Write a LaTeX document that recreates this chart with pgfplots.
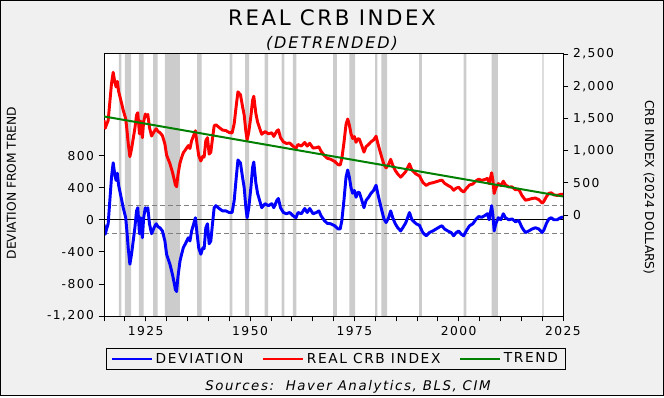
\documentclass[border=0pt]{standalone}
\usepackage{pgfplots}
\usepackage{pgfplotstable}
\pgfplotsset{compat=1.18}
\usepackage{fontspec}
\setmainfont{DejaVu Sans}[LetterSpace=12]
\newfontfamily\plainfont{DejaVu Sans}
\definecolor{bg}{HTML}{F0F0F0}
\definecolor{recgray}{HTML}{CCCCCC}
\definecolor{cblue}{HTML}{0000FF}
\definecolor{cred}{HTML}{FF0000}
\definecolor{cgreen}{HTML}{008000}

\pgfplotstableread{
year dev crb
1915.0 -60 1470
1915.3 -180 1347
1915.6 -120 1403
1916.0 -50 1469
1916.4 240 1754
1916.8 530 2040
1917.2 710 2215
1917.6 560 2061
1917.9 490 1987
1918.2 580 2074
1918.5 430 1920
1918.9 330 1816
1919.3 230 1711
1919.6 150 1628
1920.2 25 1496
1920.5 -150 1318
1920.8 -350 1114
1921.2 -555 905
1921.6 -430 1025
1922.0 -265 1186
1922.4 -100 1346
1922.8 110 1552
1923.1 150 1588
1923.5 -175 1259
1923.8 25 1456
1924.2 -225 1201
1924.5 25 1448
1924.9 150 1568
1925.2 110 1525
1925.5 150 1561
1925.9 -50 1357
1926.4 -175 1226
1927.0 -100 1294
1927.5 -50 1339
1928.0 -90 1293
1928.4 -100 1279
1929.0 -140 1232
1929.6 -265 1100
1930.0 -430 931
1930.8 -555 797
1931.4 -680 665
1931.9 -810 529
1932.1 -870 467
1932.4 -895 438
1932.7 -720 610
1933.0 -600 727
1933.2 -520 804
1933.6 -430 890
1934.0 -350 965
1934.5 -300 1010
1935.2 -225 1077
1935.6 -265 1032
1936.0 -140 1153
1936.5 -50 1237
1936.9 25 1308
1937.3 -175 1103
1937.7 -350 924
1938.2 -430 838
1938.7 -350 912
1939.0 -360 899
1939.4 -100 1154
1939.8 -50 1200
1940.2 -300 945
1940.6 -265 976
1941.0 -50 1186
1941.4 150 1382
1941.8 175 1402
1942.6 140 1358
1943.4 110 1319
1944.2 110 1310
1945.0 90 1281
1945.7 90 1273
1946.2 240 1417
1946.7 530 1702
1947.1 745 1912
1947.7 707 1867
1948.2 530 1685
1948.6 400 1550
1949.0 150 1296
1949.3 25 1167
1949.7 150 1288
1950.2 400 1532
1950.6 650 1778
1950.9 720 1844
1951.4 455 1574
1951.8 330 1444
1952.3 240 1348
1952.8 150 1253
1953.6 200 1294
1954.4 175 1260
1955.2 200 1276
1955.7 150 1220
1956.4 240 1302
1956.8 265 1323
1957.3 150 1202
1958.0 90 1134
1958.7 75 1111
1959.5 90 1117
1960.3 50 1068
1961.0 25 1035
1961.5 90 1095
1962.3 75 1070
1963.1 140 1126
1963.7 90 1070
1964.3 140 1113
1965.1 75 1039
1965.9 90 1045
1966.5 110 1058
1967.0 50 992
1967.8 -10 923
1968.5 -45 880
1969.3 -50 866
1970.3 -75 830
1971.1 -115 781
1971.6 -115 775
1972.0 -10 876
1972.5 240 1120
1973.0 530 1405
1973.4 620 1490
1973.8 530 1396
1974.2 400 1261
1974.6 330 1187
1975.0 365 1217
1975.4 280 1128
1975.8 340 1183
1976.2 340 1178
1976.8 240 1072
1977.3 150 976
1977.8 240 1060
1978.4 280 1094
1979.0 330 1137
1979.6 365 1165
1980.2 430 1223
1980.6 330 1119
1981.0 240 1024
1981.6 110 887
1982.1 10 782
1982.6 -35 731
1983.2 25 784
1983.7 110 864
1984.2 25 773
1984.8 -50 691
1985.4 -100 635
1986.1 -140 587
1986.6 -100 621
1987.3 -40 673
1988.2 90 793
1988.8 0 696
1989.8 -50 635
1990.6 -70 606
1991.4 -160 507
1992.2 -200 458
1993.0 -160 489
1993.8 -140 500
1994.6 -115 516
1995.4 -90 532
1996.0 -75 540
1996.6 -115 493
1997.4 -140 459
1998.2 -160 430
1998.8 -200 383
1999.4 -160 416
2000.0 -140 430
2000.6 -180 383
2001.2 -200 356
2001.8 -140 409
2002.6 -75 465
2003.4 -50 481
2004.2 10 532
2004.8 40 555
2005.5 30 537
2006.2 50 549
2006.9 75 567
2007.3 0 487
2007.9 175 655
2008.2 60 537
2008.5 -140 333
2008.9 -50 419
2009.5 25 487
2010.1 0 455
2010.7 75 524
2011.2 25 468
2012.0 0 434
2012.8 10 435
2013.6 -25 391
2014.4 -10 397
2015.2 -100 298
2016.0 -160 229
2016.8 -140 240
2017.6 -115 256
2018.4 -100 262
2019.2 -115 238
2020.0 -160 184
2020.4 -130 209
2021.0 -50 282
2021.6 10 335
2022.2 25 344
2022.8 0 312
2023.6 0 303
2024.4 25 319
2025.0 35 322
}\datatab

\pgfplotstableread{
x top bot
1918.58 2200 -1300
1919.17 0 0
1920.00 2200 -1300
1921.50 0 0
1923.33 2200 -1300
1924.50 0 0
1926.75 2200 -1300
1927.83 0 0
1929.58 2200 -1300
1933.17 0 0
1937.33 2200 -1300
1938.42 0 0
1945.08 2200 -1300
1945.75 0 0
1948.83 2200 -1300
1949.75 0 0
1953.50 2200 -1300
1954.33 0 0
1957.58 2200 -1300
1958.25 0 0
1960.25 2200 -1300
1961.08 0 0
1969.92 2200 -1300
1970.83 0 0
1973.83 2200 -1300
1975.17 0 0
1980.00 2200 -1300
1980.50 0 0
1981.50 2200 -1300
1982.83 0 0
1990.50 2200 -1300
1991.17 0 0
2001.17 2200 -1300
2001.83 0 0
2007.92 2200 -1300
2009.42 0 0
2020.08 2200 -1300
2020.35 0 0
2025.00 0 0
}\rectab

\pgfplotstableread{
year trend
1915 1530
2025 287
}\trendtab

\begin{document}
\begin{tikzpicture}
\fill[bg] (0pt,0pt) rectangle (498pt,297pt);
\draw[line width=0.75pt] (0.375pt,0.375pt) rectangle (497.625pt,296.625pt);
\node[font=\fontsize{16}{18}\selectfont] at (249pt,284pt) {REAL CRB INDEX};
\node[font=\fontsize{12}{14}\selectfont\itshape] at (249pt,264.75pt) {(DETRENDED)};
\node[font=\fontsize{10}{12}\selectfont\itshape] at (261pt,7pt) {Sources:\ \ Haver Analytics, BLS, CIM};
\node[rotate=90, font=\plainfont\fontsize{9.2}{11}\selectfont] at (8.6pt,159.75pt) {DEVIATION FROM TREND};
\node[rotate=-90, font=\plainfont\fontsize{9.2}{11}\selectfont] at (486.75pt,156.4pt) {CRB INDEX (2024 DOLLARS)};

\begin{axis}[
  at={(78pt,60pt)}, anchor=south west,
  width=344.25pt, height=196.5pt, scale only axis,
  xmin=1915, xmax=2025, ymin=-1200, ymax=2066,
  axis on top,
  axis background/.style={fill=white},
  axis line style={black, line width=0.75pt},
  tick align=outside, xtick pos=bottom, ytick pos=left,
  major tick length=4pt, minor tick length=4pt,
  tick style={black, line width=0.6pt},
  xtick={1925,1950,1975,2000,2025},
  minor xtick={1915,1920,...,2020},
  ytick={-1200,-800,-400,0,400,800},
  xticklabel style={/pgf/number format/1000 sep={}},
  yticklabel style={/pgf/number format/1000 sep={,}},
  /pgf/number format/assume math mode=true,
  ticklabel style={font=\fontsize{9.2}{11}\selectfont},
]
\addplot[ybar interval, fill=recgray, draw=none] table[x=x, y=top] {\rectab};
\addplot[ybar interval, fill=recgray, draw=none] table[x=x, y=bot] {\rectab};
\addplot[black, line width=0.75pt] coordinates {(1915,0) (2025,0)};
\addplot[gray, line width=0.6pt, dash pattern=on 3.5pt off 2.5pt] coordinates {(1915,175) (2025,175)};
\addplot[gray, line width=0.6pt, dash pattern=on 3.5pt off 2.5pt] coordinates {(1915,-175) (2025,-175)};
\addplot[cblue, line width=2.2pt, line join=round] table[x=year, y=dev] {\datatab};
\end{axis}

\begin{axis}[
  at={(78pt,60pt)}, anchor=south west,
  width=344.25pt, height=196.5pt, scale only axis,
  xmin=1915, xmax=2025, ymin=-1570, ymax=2500,
  axis x line=none, axis y line*=right,
  axis line style={black, line width=0.75pt},
  tick align=outside, ytick pos=right,
  major tick length=4pt,
  tick style={black, line width=0.6pt},
  ytick={0,500,1000,1500,2000,2500},
  yticklabel style={/pgf/number format/1000 sep={,}},
  /pgf/number format/assume math mode=true,
  ticklabel style={font=\fontsize{9.2}{11}\selectfont},
  legend columns=3,
  legend cell align=left,
  legend image code/.code={\draw[#1, line width=1.5pt] (0pt,0pt) -- (30pt,0pt);},
  legend style={at={(0.505,-0.164)}, anchor=center, draw=black, fill=bg,
    line width=0.75pt, font=\fontsize{10.3}{12}\selectfont,
    inner xsep=3.5pt, inner ysep=1.5pt,
    /tikz/every even column/.append style={column sep=12pt}},
]
\addlegendimage{cblue}
\addlegendentry{DEVIATION}
\addplot[cred, line width=2.2pt, line join=round] table[x=year, y=crb] {\datatab};
\addlegendentry{REAL CRB INDEX}
\addplot[cgreen, line width=1.5pt] table[x=year, y=trend] {\trendtab};
\addlegendentry{TREND}
\end{axis}
\end{tikzpicture}
\end{document}
